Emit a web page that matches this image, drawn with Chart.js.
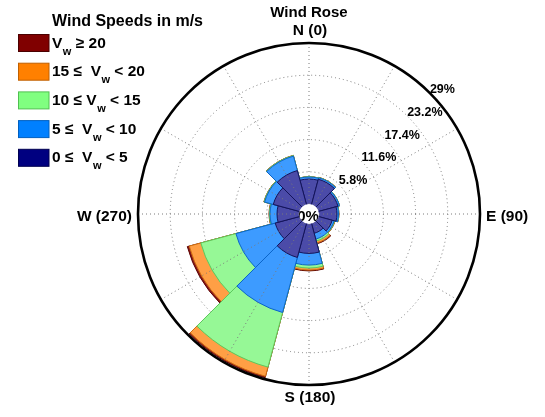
<!DOCTYPE html>
<html>
<head>
<meta charset="utf-8">
<script src="https://cdn.jsdelivr.net/npm/chart.js@4/dist/chart.umd.min.js"></script>
<style>
  html, body { margin: 0; padding: 0; background: #ffffff; }
  canvas { display: block; }
</style>
</head>
<body>
<canvas id="rose" width="545" height="417"></canvas>
<script>
// Direction sectors, 30 degrees wide, centred on 0, 30, ..., 330 degrees
const directions = ['N', 'NNE', 'ENE', 'E', 'ESE', 'SSE', 'S', 'SSW', 'WSW', 'W', 'WNW', 'NNW'];

// Frequency (%) of each speed class per direction
const speed0to5   = [4.50, 4.68, 3.60, 3.24, 2.52, 1.80, 5.30, 6.30, 4.50, 3.96, 4.86, 6.30];
const speed5to10  = [0.36, 0.27, 0.27, 0.27, 0.36, 1.08, 2.10, 10.27, 7.33, 1.26, 1.62, 2.70];
const speed10to15 = [0.05, 0.05, 0.03, 0.05, 0.10, 0.36, 0.54, 10.18, 6.54, 0.10, 0.10, 0.10];
const speed15to20 = [0.00, 0.02, 0.00, 0.02, 0.05, 0.36, 0.36, 1.71, 2.16, 0.05, 0.02, 0.02];
const speedAbove20 = [0.00, 0.01, 0.00, 0.01, 0.01, 0.15, 0.15, 0.27, 0.36, 0.02, 0.01, 0.01];

// Radial rings (%)
const ringTicks = [5.8, 11.6, 17.4, 23.2, 29];
const compassLabels = ['N (0)', 'E (90)', 'S (180)', 'W (270)'];
const chartTitle = 'Wind Rose';
const legendTitle = 'Wind Speeds in m/s';
// Legend entries, top to bottom: text before subscript, subscript, text after
const legendEntries = [
  ['V', 'w', ' \u2265 20'],
  ['15 \u2264  V', 'w', ' < 20'],
  ['10 \u2264 V', 'w', ' < 15'],
  ['5 \u2264  V', 'w', ' < 10'],
  ['0 \u2264  V', 'w', ' < 5']
];

const sectorFill = ['#4b4ba8', '#3d9bff', '#96f896', '#ff9f45', '#8c1c1c'];
const sectorEdge = ['#14145a', '#0a64c8', '#5cc85c', '#d07010', '#5a0000'];
const legendFill = ['#800000', '#ff8000', '#80ff80', '#0080ff', '#000080'];
const legendEdge = ['#4a0000', '#c06000', '#50c050', '#0060c0', '#000050'];

const bins = [speed0to5, speed5to10, speed10to15, speed15to20, speedAbove20];
// Stacked totals: dataset k reaches the sum of classes 0..k (drawn first = outermost)
const stacked = bins.map((_, k) =>
  directions.map((_, i) => bins.slice(0, k + 1).reduce((s, b) => s + b[i], 0))
);

const FONT = '"Liberation Sans", Arial, Helvetica, sans-serif';

const roseDecor = {
  id: 'roseDecor',
  afterDraw(chart) {
    const ctx = chart.ctx;
    const r = chart.scales.r;
    const cx = r.xCenter, cy = r.yCenter, R = r.drawingArea;
    const r0 = r.getDistanceFromCenterForValue(0);

    // dotted spokes every 30 degrees
    ctx.save();
    ctx.strokeStyle = '#7a7a7a';
    ctx.lineWidth = 1;
    ctx.setLineDash([1, 3]);
    for (let d = 0; d < 360; d += 30) {
      const a = d * Math.PI / 180 - Math.PI / 2;
      ctx.beginPath();
      ctx.moveTo(cx + r0 * Math.cos(a), cy + r0 * Math.sin(a));
      ctx.lineTo(cx + R * Math.cos(a), cy + R * Math.sin(a));
      ctx.stroke();
    }
    ctx.restore();

    // white hub with 0%
    ctx.save();
    ctx.beginPath();
    ctx.arc(cx, cy, r0, 0, Math.PI * 2);
    ctx.fillStyle = '#ffffff';
    ctx.fill();
    ctx.clip();
    ctx.fillStyle = '#000';
    ctx.font = 'bold 15px ' + FONT;
    ctx.textAlign = 'center';
    ctx.textBaseline = 'alphabetic';
    ctx.fillText('0%', cx - 1, cy + 7);
    ctx.restore();

    // outer ring
    ctx.save();
    ctx.beginPath();
    ctx.arc(cx, cy, R, 0, Math.PI * 2);
    ctx.strokeStyle = '#000';
    ctx.lineWidth = 2.6;
    ctx.stroke();
    ctx.restore();

    ctx.save();
    ctx.fillStyle = '#000';
    // ring labels along the 45 degree bearing
    ctx.font = 'bold 12.5px ' + FONT;
    ctx.textAlign = 'left';
    ctx.textBaseline = 'alphabetic';
    ringTicks.forEach(v => {
      const d = r.getDistanceFromCenterForValue(v);
      const a = Math.PI / 4;
      ctx.fillText(String(v) + '%', cx + d * Math.sin(a), cy - d * Math.cos(a));
    });

    // compass labels
    ctx.font = 'bold 15.5px ' + FONT;
    ctx.textAlign = 'center';
    ctx.fillText(compassLabels[0], cx + 1, cy - R - 8);
    ctx.fillText(compassLabels[2], cx + 1, cy + R + 17);
    ctx.textAlign = 'left';
    ctx.fillText(compassLabels[1], cx + R + 6, cy + 7);
    ctx.textAlign = 'right';
    ctx.fillText(compassLabels[3], cx - R - 6, cy + 7);

    // title
    ctx.textAlign = 'center';
    ctx.font = 'bold 15px ' + FONT;
    ctx.fillText(chartTitle, cx, 17);

    // legend
    ctx.textAlign = 'left';
    ctx.font = 'bold 16px ' + FONT;
    ctx.fillText(legendTitle, 52, 26);
    legendEntries.forEach((e, i) => {
      const mid = 43 + i * 28.7;
      ctx.fillStyle = legendFill[i];
      ctx.fillRect(18.5, mid - 8.5, 30.5, 17);
      ctx.strokeStyle = legendEdge[i];
      ctx.lineWidth = 1;
      ctx.strokeRect(18.5, mid - 8.5, 30.5, 17);
      ctx.fillStyle = '#000';
      let x = 52;
      const base = mid + 4.5;
      ctx.font = 'bold 15.5px ' + FONT;
      ctx.fillText(e[0], x, base);
      x += ctx.measureText(e[0]).width + 0.5;
      ctx.font = 'bold 11px ' + FONT;
      ctx.fillText(e[1], x, base + 7);
      x += ctx.measureText(e[1]).width;
      ctx.font = 'bold 15.5px ' + FONT;
      ctx.fillText(e[2], x, base);
    });
    ctx.restore();
  }
};

new Chart(document.getElementById('rose'), {
  type: 'polarArea',
  data: {
    labels: directions,
    datasets: stacked.map((data, k) => ({
      label: legendEntries[4 - k].join(''),
      data,
      backgroundColor: sectorFill[k],
      borderColor: sectorEdge[k],
      borderWidth: 1
    }))
  },
  options: {
    responsive: false,
    animation: false,
    devicePixelRatio: 1,
    layout: { padding: { left: 138, right: 65, top: 43, bottom: 32 } },
    plugins: { legend: { display: false }, tooltip: { enabled: false } },
    scales: {
      r: {
        min: -1.8,
        max: 29,
        startAngle: -15,
        z: 1,
        afterBuildTicks: (axis) => { axis.ticks = [0].concat(ringTicks).map(v => ({ value: v })); },
        ticks: { display: false },
        grid: {
          circular: true,
          lineWidth: 1,
          color: (c) => (c.index === 0 || c.index === ringTicks.length) ? 'rgba(0,0,0,0)' : '#7a7a7a'
        },
        border: { dash: [1, 3] },
        angleLines: { display: false },
        pointLabels: { display: false }
      }
    }
  },
  plugins: [roseDecor]
});
</script>
</body>
</html>
